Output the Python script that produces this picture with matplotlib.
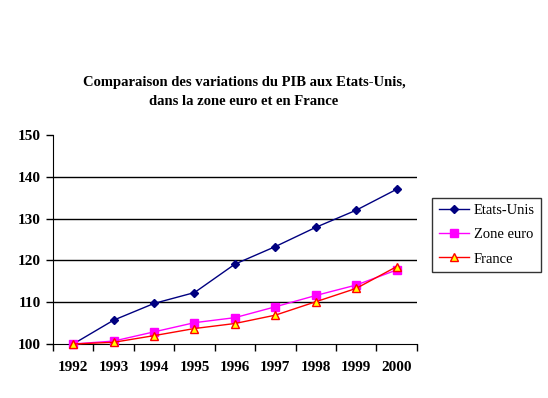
import numpy as np
import matplotlib.pyplot as plt
from matplotlib.ticker import FixedLocator

annees = ['1992', '1993', '1994', '1995', '1996', '1997', '1998', '1999', '2000']
etats_unis = [100, 105.7, 109.7, 112.3, 119.1, 123.3, 127.9, 132.0, 137.0]
zone_euro = [100, 100.7, 102.9, 105.1, 106.3, 108.9, 111.6, 114.1, 117.7]
france = [100, 100.4, 102.0, 103.7, 104.9, 106.9, 110.1, 113.3, 118.5]


def main() -> None:
    plt.rcParams['font.family'] = ['Liberation Serif', 'DejaVu Serif']
    fig = plt.figure(figsize=(5.48, 3.98), dpi=100)
    ax = fig.add_axes([0.0967, 0.1357, 0.664, 0.5253])

    x = np.arange(len(annees))
    ax.plot(x, etats_unis, color='#000080', lw=1, marker='D', ms=4.5,
            mfc='#000080', mec='#000080', label='Etats-Unis', clip_on=False, zorder=3)
    ax.plot(x, zone_euro, color='#FF00FF', lw=1, marker='s', ms=5.5,
            mfc='#FF00FF', mec='#FF00FF', label='Zone euro', clip_on=False, zorder=3)
    ax.plot(x, france, color='#FF0000', lw=1, marker='^', ms=6,
            mfc='#FFFF00', mec='#FF0000', label='France', clip_on=False, zorder=4)

    ax.set_xlim(-0.5, len(annees) - 0.5)
    ax.set_ylim(100, 150)
    ax.set_yticks([100, 110, 120, 130, 140, 150])
    ax.set_yticklabels(['100', '110', '120', '130', '140', '150'],
                       fontsize=11, fontweight='bold')
    ax.yaxis.set_ticks_position('left')
    for v in [110, 120, 130, 140]:
        ax.axhline(v, color='black', lw=1, zorder=1)

    # ticks entre les catégories, étiquettes au centre
    ax.xaxis.set_major_locator(FixedLocator(np.arange(-0.5, len(annees), 1.0)))
    ax.xaxis.set_minor_locator(FixedLocator(x))
    ax.set_xticklabels([])
    ax.set_xticklabels(annees, minor=True, fontsize=11, fontweight='bold')
    ax.tick_params(axis='x', which='minor', length=0, pad=12)
    ax.tick_params(axis='both', which='major', length=5, width=1, direction='out')
    ax.tick_params(axis='y', pad=4)

    for s in ['top', 'right']:
        ax.spines[s].set_visible(False)

    fig.text(0.445, 0.768, 'Comparaison des variations du PIB aux Etats-Unis,\n'
             'dans la zone euro et en France', ha='center', va='center',
             fontsize=10.5, fontweight='bold', linespacing=1.6)

    leg = fig.legend(loc='center', bbox_to_anchor=(0.888, 0.41), fontsize=10.5,
                     frameon=True, fancybox=False, edgecolor='black',
                     handlelength=2.1, handletextpad=0.3, borderpad=0.45,
                     labelspacing=0.75)
    leg.get_frame().set_linewidth(1)

    fig.savefig('out.png', dpi=100)


if __name__ == '__main__':
    main()
